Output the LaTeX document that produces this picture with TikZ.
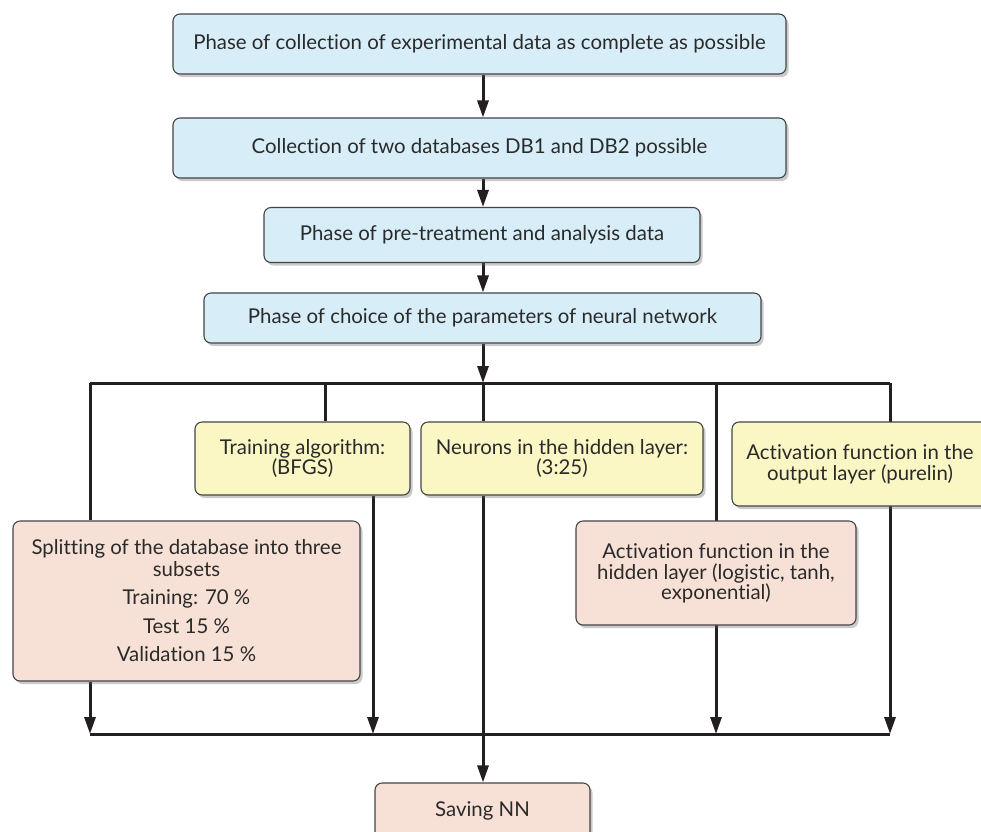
\documentclass[tikz,border=0pt]{standalone}
\usepackage{fontspec}
\setmainfont{Lato}[Ligatures={NoCommon}]
\usetikzlibrary{arrows.meta,shadows,backgrounds}
\definecolor{bluefill}{HTML}{D7EDF7}
\definecolor{yellowfill}{HTML}{FAF7C5}
\definecolor{peachfill}{HTML}{F7E1D6}
\definecolor{boxline}{HTML}{444444}
\definecolor{txt}{HTML}{2A2A2A}
\definecolor{conn}{HTML}{231F20}
\tikzset{
  box/.style={draw=boxline, line width=1.1pt, rounded corners=7pt, inner sep=0pt,
    align=center, text=txt, font=\fontsize{20.4}{22}\selectfont,
    drop shadow={shadow xshift=2.5pt, shadow yshift=-3pt, opacity=0.35, fill=black!60}},
  bluebox/.style={box, fill=bluefill},
  yellowbox/.style={box, fill=yellowfill},
  peachbox/.style={box, fill=peachfill},
  link/.style={draw=conn, line width=3pt},
  arrowlink/.style={link, -{Triangle[length=17pt,width=11pt]}}
}
\begin{document}
\begin{tikzpicture}[x=1pt,y=-1pt]
\useasboundingbox (0,0) rectangle (981,831);
\node[bluebox, minimum width=613pt, minimum height=60pt] (b1) at (479.5,44)
  {Phase of collection of experimental data as complete as possible};
\node[bluebox, minimum width=613pt, minimum height=60pt] (b2) at (479.5,148)
  {Collection of two databases DB1 and DB2 possible};
\node[bluebox, minimum width=436pt, minimum height=55pt] (b3) at (482,235)
  {Phase of pre-treatment and analysis data};
\node[bluebox, minimum width=557pt, minimum height=50pt] (b4) at (482.5,318)
  {Phase of choice of the parameters of neural network};
\node[yellowbox, minimum width=215pt, minimum height=73pt] (train) at (302.5,458.5)
  {Training algorithm:\\[-2pt](BFGS)};
\node[yellowbox, minimum width=282pt, minimum height=73pt] (neur) at (562,458.5)
  {Neurons in the hidden layer:\\[-2pt](3:25)};
\node[yellowbox, minimum width=256pt, minimum height=84pt] (outact) at (860,464)
  {Activation function in the\\[-1pt]output layer (purelin)};
\node[peachbox, minimum width=347pt, minimum height=160pt] (split) at (186.5,601)
  {Splitting of the database into three\\subsets\\[6pt]Training: 70 \%\\[7pt]Test 15 \%\\[6pt]Validation 15 \%};
\node[peachbox, minimum width=280pt, minimum height=104pt] (hidact) at (716,573)
  {Activation function in the\\[-1pt]hidden layer (logistic, tanh,\\[-2pt]exponential)};
\node[peachbox, minimum width=215pt, minimum height=56pt] (save) at (482.5,811)
  {Saving NN};
\coordinate (tl) at (90,383);
\coordinate (tr) at (890,383);
\coordinate (tm) at (483,383);
\coordinate (bl) at (90,734);
\coordinate (br) at (890,734);
\coordinate (bt) at (373,734);
\coordinate (bh) at (716,734);
\coordinate (th) at (716,383);
\coordinate (tt) at (325,383);
\begin{pgfonlayer}{background}
\draw[arrowlink] (b1.south -| tm) -- (b2.north -| tm);
\draw[arrowlink] (b2.south -| tm) -- (b3.north -| tm);
\draw[arrowlink] (b3.south -| tm) -- (b4.north -| tm);
\draw[arrowlink] (b4.south -| tm) -- (tm);
\draw[link] (tl) -- (tr);
\draw[link] (tl) -- (split.north -| tl);
\draw[link] (tt) -- (train.north -| tt);
\draw[link] (tm) -- (neur.north -| tm);
\draw[arrowlink] (th) -- (bh);
\draw[arrowlink] (tr) -- (br);
\draw[arrowlink] (split.south -| bl) -- (bl);
\draw[arrowlink] (train.south -| bt) -- (bt);
\draw[link] (bl) -- (br);
\draw[arrowlink] (neur.south -| tm) -- (save.north -| tm);
\end{pgfonlayer}
\end{tikzpicture}
\end{document}
